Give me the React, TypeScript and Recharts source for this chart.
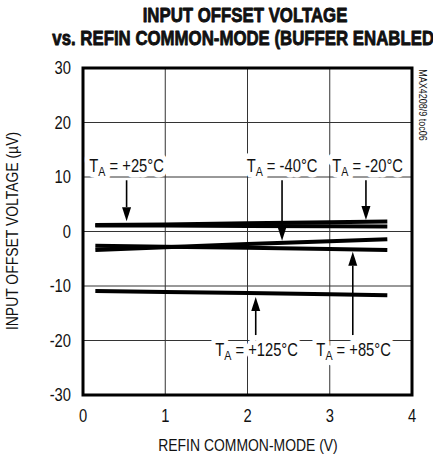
import {
  LineChart,
  Line,
  XAxis,
  YAxis,
  CartesianGrid,
  ReferenceArea,
  ReferenceLine,
  ReferenceDot,
} from 'recharts';

// REFIN common-mode voltage (V)
const refinVolts = [0.15, 1, 2, 3, 3.7];

// input offset voltage (uV) per temperature
const offset25 = [1.1, 1.1, 1.0, 0.95, 0.9];
const offsetMinus20 = [1.2, 1.3, 1.5, 1.7, 1.85];
const offsetMinus40 = [-3.4, -2.9, -2.3, -1.8, -1.4];
const offset85 = [-2.6, -2.8, -3.0, -3.2, -3.4];
const offset125 = [-10.9, -11.1, -11.3, -11.5, -11.7];

const xTicks = [0, 1, 2, 3, 4];
const yTicks = [-30, -20, -10, 0, 10, 20, 30];

// callout labels (data coords)
const labelTexts = [' = +25°C', ' = -40°C', ' = -20°C', ' = +125°C', ' = +85°C'];
const labelX = [0.53, 2.42, 3.46, 2.11, 3.29];
const labelY = [12.1, 12.1, 12.1, -21.6, -21.6];

// callout arrows: x, start y, tip y
const arrowX = [0.53, 2.42, 3.44, 2.1, 3.28];
const arrowFrom = [9.4, 9.4, 9.4, -19.0, -19.0];
const arrowTip = [1.9, -1.7, 2.1, -12.0, -3.7];

const FONT = '"Liberation Sans", Arial, sans-serif';
const SQUEEZE = 0.82; // fake a condensed face

const data = refinVolts.map((x, i) => ({
  x,
  t25: offset25[i],
  tm20: offsetMinus20[i],
  tm40: offsetMinus40[i],
  t85: offset85[i],
  t125: offset125[i],
}));

const NarrowText = ({ x, y, anchor = 'middle', size = 18, weight = 'normal', rotate = 0, dy, children, halo, heavy }: any) => (
  <text
    transform={`translate(${x},${y}) rotate(${rotate}) scale(${SQUEEZE},1)`}
    textAnchor={anchor}
    dy={dy}
    fontFamily={FONT}
    fontSize={size}
    fontWeight={weight}
    fill="#111"
    stroke={halo ? '#fff' : heavy ? '#000' : undefined}
    strokeWidth={halo ? 11 : heavy ? 0.8 : undefined}
    strokeLinejoin="round"
    paintOrder="stroke"
  >
    {children}
  </text>
);

const XTick = (p: any) => (
  <NarrowText x={p.x} y={p.y} dy="0.71em">
    {p.payload.value}
  </NarrowText>
);

const YTick = (p: any) => (
  <NarrowText x={p.x} y={p.y} anchor="end" dy="0.36em">
    {p.payload.value}
  </NarrowText>
);

const Arrow = (p: any) => {
  const { x1, y1, x2, y2 } = p;
  const dir = y2 > y1 ? 1 : -1;
  const head = 14;
  const baseY = y2 - dir * head;
  return (
    <g>
      <line x1={x1} y1={y1} x2={x2} y2={baseY} stroke="#000" strokeWidth={1.6} />
      <polygon points={`${x2},${y2} ${x2 - 4.5},${baseY} ${x2 + 4.5},${baseY}`} fill="#000" />
    </g>
  );
};

const makeLabel = (text: string) => (p: any) => (
  <NarrowText x={p.cx} y={p.cy} dy="0.35em" halo>
    T
    <tspan fontSize={13} dy={4}>
      A
    </tspan>
    <tspan dy={-4}>{text}</tspan>
  </NarrowText>
);

export default function App() {
  return (
    <div
      style={{
        position: 'absolute',
        left: 0,
        top: 0,
        width: 433,
        height: 455,
        background: '#fff',
        overflow: 'hidden',
      }}
    >
      <LineChart width={433} height={455} data={data} margin={{ top: 68, right: 21, bottom: 0, left: 0 }}>
        <CartesianGrid stroke="#333" strokeWidth={1} horizontalValues={yTicks} verticalValues={xTicks} />
        <XAxis
          dataKey="x"
          type="number"
          domain={[0, 4]}
          ticks={xTicks}
          height={60}
          axisLine={false}
          tickLine={false}
          tickSize={0}
          tickMargin={14}
          tick={XTick}
        />
        <YAxis
          type="number"
          domain={[-30, 30]}
          ticks={yTicks}
          width={83}
          axisLine={false}
          tickLine={false}
          tickSize={0}
          tickMargin={12}
          tick={YTick}
        />
        <ReferenceArea x1={0} x2={4} y1={-30} y2={30} fill="none" stroke="#000" strokeWidth={3} />
        <Line type="linear" dataKey="t25" stroke="#000" strokeWidth={4} dot={false} isAnimationActive={false} />
        <Line type="linear" dataKey="tm20" stroke="#000" strokeWidth={4} dot={false} isAnimationActive={false} />
        <Line type="linear" dataKey="tm40" stroke="#000" strokeWidth={4} dot={false} isAnimationActive={false} />
        <Line type="linear" dataKey="t85" stroke="#000" strokeWidth={4} dot={false} isAnimationActive={false} />
        <Line type="linear" dataKey="t125" stroke="#000" strokeWidth={4} dot={false} isAnimationActive={false} />
        {arrowX.map((ax, i) => (
          <ReferenceLine
            key={`a${i}`}
            segment={[
              { x: ax, y: arrowFrom[i] },
              { x: ax, y: arrowTip[i] },
            ]}
            shape={Arrow}
          />
        ))}
        {labelTexts.map((t, i) => (
          <ReferenceDot key={`l${i}`} x={labelX[i]} y={labelY[i]} r={1} shape={makeLabel(t)} />
        ))}
      </LineChart>
      <svg
        width={433}
        height={455}
        style={{ position: 'absolute', left: 0, top: 0, pointerEvents: 'none' }}
      >
        <NarrowText x={245} y={22} size={20.5} weight="bold" heavy>
          INPUT OFFSET VOLTAGE
        </NarrowText>
        <NarrowText x={246} y={45} size={20.5} weight="bold" heavy>
          vs. REFIN COMMON-MODE (BUFFER ENABLED)
        </NarrowText>
        <NarrowText x={248} y={451} size={17}>
          REFIN COMMON-MODE (V)
        </NarrowText>
        <NarrowText x={18} y={231} size={17} rotate={-90}>
          INPUT OFFSET VOLTAGE (µV)
        </NarrowText>
        <NarrowText x={419} y={105} size={11} rotate={90}>
          MAX4208/9 toc06
        </NarrowText>
      </svg>
    </div>
  );
}
